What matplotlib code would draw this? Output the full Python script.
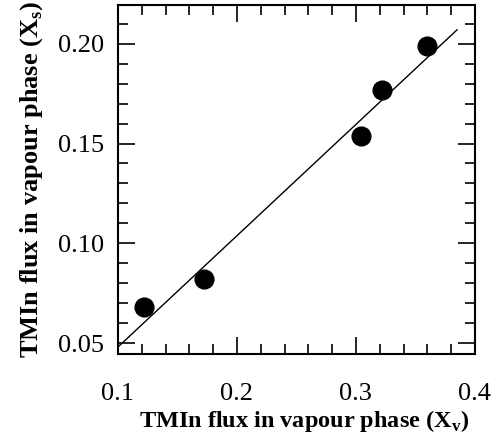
import numpy as np
import matplotlib
matplotlib.use('Agg')
from matplotlib import pyplot as plt
from matplotlib.ticker import MultipleLocator, FormatStrFormatter

# measured points
xv = [0.122, 0.172, 0.304, 0.322, 0.360]
xs = [0.068, 0.082, 0.154, 0.177, 0.199]
# fitted line end points
fit_x = [0.100, 0.385]
fit_y = [0.048, 0.207]

plt.rcParams['font.family'] = 'Liberation Serif'
plt.rcParams['mathtext.fontset'] = 'custom'
plt.rcParams['mathtext.rm'] = 'Liberation Serif'

fig = plt.figure(figsize=(5.02, 4.45), dpi=100)
ax = fig.add_axes([0.235, 0.2045, 0.711, 0.7845])

ax.plot(fit_x, fit_y, color='black', lw=1.0)
ax.plot(xv, xs, 'o', color='black', markersize=13.5)

ax.set_xlim(0.1, 0.4)
ax.set_ylim(0.0445, 0.2195)
ax.xaxis.set_major_locator(MultipleLocator(0.1))
ax.xaxis.set_minor_locator(MultipleLocator(0.02))
ax.yaxis.set_major_locator(MultipleLocator(0.05))
ax.yaxis.set_minor_locator(MultipleLocator(0.01))
ax.xaxis.set_major_formatter(FormatStrFormatter('%.1f'))
ax.yaxis.set_major_formatter(FormatStrFormatter('%.2f'))

ax.tick_params(which='both', direction='in', top=True, right=True, width=1.2, labelsize=19)
ax.tick_params(which='major', length=12)
ax.tick_params(which='minor', length=7)
ax.tick_params(axis='x', which='major', pad=21)
ax.tick_params(axis='y', which='major', pad=10)
for s in ax.spines.values():
    s.set_linewidth(1.5)

ax.set_xlabel('TMIn flux in vapour phase (X$_{\\mathregular{v}}$)', fontsize=17.5, fontweight='bold')
ax.xaxis.set_label_coords(0.522, -0.155)
ax.set_ylabel('TMIn flux in vapour phase (X$_{\\mathregular{s}}$)', fontsize=19, fontweight='bold', labelpad=9)

fig.savefig('out.png', dpi=100)
